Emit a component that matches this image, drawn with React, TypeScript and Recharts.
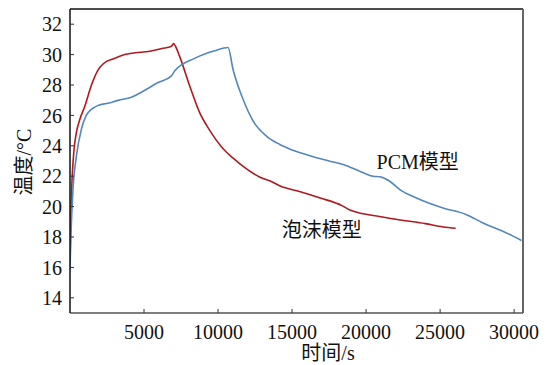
import { LineChart, Line, XAxis, YAxis, ReferenceLine, ReferenceDot } from 'recharts'

// 泡沫模型 (foam model), time in s / temperature in °C
const foamTime = [
  0, 90, 250, 400, 650, 1000, 1450, 1900, 2250, 3000, 3700, 4400, 5300, 6200, 6850, 7000,
  7150, 7400, 8100, 8750, 9450, 10350, 11000, 11500, 12800, 13700, 14200, 15500, 16900,
  18400, 18900, 19500, 20900, 22300, 24000, 25200, 26050,
]
const foamTemp = [
  16.6, 20.5, 23.5, 24.7, 25.7, 26.6, 28.0, 29.0, 29.4, 29.75, 30.0, 30.12, 30.2, 30.4, 30.55,
  30.72, 30.5, 29.9, 27.9, 26.2, 25.0, 23.8, 23.2, 22.8, 21.95, 21.6, 21.35, 21.0, 20.57,
  20.05, 19.78, 19.6, 19.35, 19.12, 18.88, 18.66, 18.58,
]

// PCM模型
const pcmTime = [
  0, 60, 200, 430, 770, 1100, 1450, 1900, 2570, 3250, 4150, 5050, 5950, 6850, 7080, 8420,
  9770, 10680, 11010, 11690, 12370, 13270, 14170, 15300, 16420, 17550, 18450,
  19570, 20470, 20930, 21600, 22280, 23400, 25200, 26780, 27900, 29490, 30500,
]
const pcmTemp = [
  15.9, 18.0, 21.1, 23.3, 25.1, 26.0, 26.4, 26.66, 26.8, 26.99, 27.2, 27.65, 28.16, 28.6,
  28.93, 29.75, 30.25, 30.47, 29.04, 27.06, 25.63, 24.64, 24.09, 23.62, 23.28, 22.99,
  22.77, 22.33, 22.0, 21.96, 21.67, 21.12, 20.57, 19.91, 19.47, 18.92, 18.26, 17.77,
]

const xTicks = [5000, 10000, 15000, 20000, 25000, 30000]
const yTicks = [14, 16, 18, 20, 22, 24, 26, 28, 30, 32]

const foamData = foamTime.map((t, i) => ({ t, v: foamTemp[i] }))
const pcmData = pcmTime.map((t, i) => ({ t, v: pcmTemp[i] }))

const FONT = '"Liberation Serif", "Times New Roman", "Noto Sans CJK SC", serif'
const tickStyle = { fontSize: 20, fill: '#111', fontFamily: FONT }

export default function App() {
  return (
    <div style={{ position: 'absolute', left: 0, top: 0, width: 550, height: 365, background: '#fff' }}>
      <LineChart width={550} height={365} margin={{ top: 9, right: 27, left: 0, bottom: 0 }}>
        <XAxis
          type="number"
          dataKey="t"
          domain={[0, 30600]}
          ticks={xTicks}
          allowDataOverflow
          height={52}
          tickSize={-4}
          tickMargin={16}
          tick={tickStyle}
          axisLine={{ stroke: '#555', strokeWidth: 1.5 }}
          tickLine={{ stroke: '#333' }}
        />
        <YAxis
          type="number"
          domain={[13, 33]}
          ticks={yTicks}
          allowDataOverflow
          width={70}
          tickSize={-4}
          tickMargin={12}
          tick={tickStyle}
          axisLine={{ stroke: '#111', strokeWidth: 1.5 }}
          tickLine={{ stroke: '#333' }}
        />
        <ReferenceLine y={33} stroke="#111" strokeWidth={1.5} />
        <ReferenceLine x={30600} stroke="#666" strokeWidth={2} />
        <Line
          data={foamData}
          dataKey="v"
          type="monotone"
          stroke="#b0191e"
          strokeWidth={1.6}
          dot={false}
          isAnimationActive={false}
        />
        <Line
          data={pcmData}
          dataKey="v"
          type="monotone"
          stroke="#5387bd"
          strokeWidth={1.6}
          dot={false}
          isAnimationActive={false}
        />
        <ReferenceDot
          x={23490}
          y={22.97}
          r={0}
          stroke="none"
          label={{ value: 'PCM模型', position: 'center', fontSize: 20, fill: '#111', fontFamily: FONT }}
        />
        <ReferenceDot
          x={17010}
          y={18.48}
          r={0}
          stroke="none"
          label={{ value: '泡沫模型', position: 'center', fontSize: 20, fill: '#111', fontFamily: FONT }}
        />
      </LineChart>
      <div
        style={{
          position: 'absolute',
          left: 24,
          top: 162,
          transform: 'translate(-50%, -50%) rotate(-90deg)',
          whiteSpace: 'nowrap',
          lineHeight: 1,
          fontSize: 20,
          fontFamily: FONT,
          color: '#111',
        }}
      >
        温度/°C
      </div>
      <div
        style={{
          position: 'absolute',
          left: 328,
          top: 353,
          transform: 'translate(-50%, -50%)',
          whiteSpace: 'nowrap',
          lineHeight: 1,
          fontSize: 20,
          fontFamily: FONT,
          color: '#111',
        }}
      >
        时间/s
      </div>
    </div>
  )
}
